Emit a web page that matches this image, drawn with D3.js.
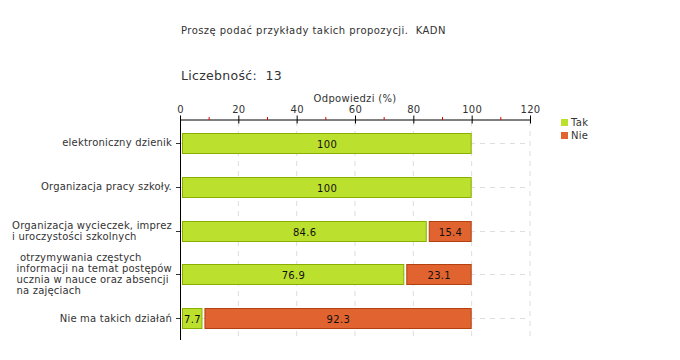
<!DOCTYPE html>
<html><head><meta charset="utf-8">
<script src="https://cdn.jsdelivr.net/npm/d3@7"></script>
<style>body{margin:0;background:#fff}text{font-family:"DejaVu Sans",Verdana,sans-serif;fill:#333;white-space:pre}</style>
</head><body><svg id="c" width="680" height="360"></svg>
<script>
const title = "Proszę podać przykłady takich propozycji.  KADN";
const countLabel = "Liczebność:  13";
const axisTitle = "Odpowiedzi (%)";
const categories = [
  ["elektroniczny dzienik"],
  ["Organizacja pracy szkoły."],
  ["Organizacja wycieczek, imprez", "i uroczystości szkolnych"],
  [" otrzymywania częstych", "informacji na temat postępów", "ucznia w nauce oraz absencji", "na zajęciach"],
  ["Nie ma takich działań"]
];
const seriesNames = ["Tak", "Nie"];
const tak = [100, 100, 84.6, 76.9, 7.7];
const nie = [0, 0, 15.4, 23.1, 92.3];
const ticks = [0, 20, 40, 60, 80, 100, 120];
const colors = ["#bce02e", "#e06330"];
const strokes = ["#8aae00", "#b3400f"];

const svg = d3.select("#c");
const x = d3.scaleLinear().domain([0, 120]).range([180, 530]);
const y = d3.scaleBand().domain(d3.range(categories.length)).range([121, 340]).paddingInner(0).paddingOuter(0);
const yc = i => y(i) + y.bandwidth() / 2;

svg.append("text").attr("x", 181).attr("y", 34).attr("font-size", 10).attr("letter-spacing", 0.45).text(title);
svg.append("text").attr("x", 181).attr("y", 80).attr("font-size", 12.5).attr("letter-spacing", 0.3).text(countLabel);
svg.append("text").attr("x", 355).attr("y", 102).attr("font-size", 10).attr("letter-spacing", 0.3).attr("text-anchor", "middle").text(axisTitle);

// grid
const g = svg.append("g");
g.selectAll("line.v").data(ticks.slice(1)).join("line")
  .attr("x1", d => x(d)).attr("x2", d => x(d)).attr("y1", 121).attr("y2", 340)
  .attr("stroke", "#ddd").attr("stroke-dasharray", "5,5");
g.selectAll("line.h").data(d3.range(categories.length)).join("line")
  .attr("x1", 180).attr("x2", 530).attr("y1", d => Math.round(yc(d)) + 0.5).attr("y2", d => Math.round(yc(d)) + 0.5)
  .attr("stroke", "#ddd").attr("stroke-dasharray", "5,5");

// x axis
const ax = svg.append("g").attr("transform", "translate(0,119.5)")
  .call(d3.axisTop(x).tickValues(ticks).tickSize(4).tickSizeOuter(0).tickPadding(3));
ax.select(".domain").attr("stroke", "#000");
ax.selectAll(".tick line").attr("stroke", "#000").attr("y2", 4).attr("y1", -4);
ax.selectAll(".tick text").attr("font-size", 10).attr("fill", "#333").attr("font-family", "DejaVu Sans").attr("letter-spacing", 0.3);
svg.append("g").selectAll("line").data(d3.range(10, 120, 20)).join("line")
  .attr("x1", d => x(d)).attr("x2", d => x(d)).attr("y1", 117).attr("y2", 120).attr("stroke", "#e00000");

// y axis
svg.append("line").attr("x1", 180.5).attr("x2", 180.5).attr("y1", 119).attr("y2", 340).attr("stroke", "#000");
svg.append("g").selectAll("line").data(d3.range(categories.length)).join("line")
  .attr("x1", 176).attr("x2", 180).attr("y1", d => Math.round(yc(d)) + 0.5).attr("y2", d => Math.round(yc(d)) + 0.5).attr("stroke", "#333");

// labels
const lh = 11;
categories.forEach((lines, i) => {
  const t = svg.append("text").attr("font-size", 10).attr("letter-spacing", 0.2);
  const n = lines.length;
  t.selectAll("tspan").data(lines).join("tspan").text(d => d);
  let maxW = 0;
  t.selectAll("tspan").each(function(){ maxW = Math.max(maxW, this.getComputedTextLength()); });
  const x0 = 172 - maxW;
  t.selectAll("tspan").attr("x", x0).attr("y", (d, k) => yc(i) + 3.5 + (k - (n - 1) / 2) * lh);
});

// bars
const stacks = categories.map((c, i) => [tak[i], nie[i]]);
stacks.forEach((vals, i) => {
  let acc = 0;
  vals.forEach((v, s) => {
    if (v <= 0) { acc += v; return; }
    const x0 = x(acc) + 2.5, x1 = x(acc + v);
    svg.append("rect").attr("x", x0).attr("y", Math.round(yc(i)) - 10 + 0.5)
      .attr("width", x1 - x0 - 0.5).attr("height", 20)
      .attr("fill", colors[s]).attr("stroke", strokes[s]).attr("stroke-width", 1);
    svg.append("text").attr("x", (x0 + x1) / 2).attr("y", Math.round(yc(i)) + 4.5)
      .attr("text-anchor", "middle").attr("font-size", 10).attr("letter-spacing", 0.3).style("fill", "#111").text(v);
    acc += v;
  });
});

// legend
const lg = svg.append("g");
seriesNames.forEach((n, s) => {
  lg.append("rect").attr("x", 561).attr("y", 119 + s * 13).attr("width", 7).attr("height", 7)
    .attr("fill", colors[s]);
  lg.append("text").attr("x", 571).attr("y", 126 + s * 13).attr("font-size", 10).attr("letter-spacing", 0.3).text(n);
});
</script></body></html>
